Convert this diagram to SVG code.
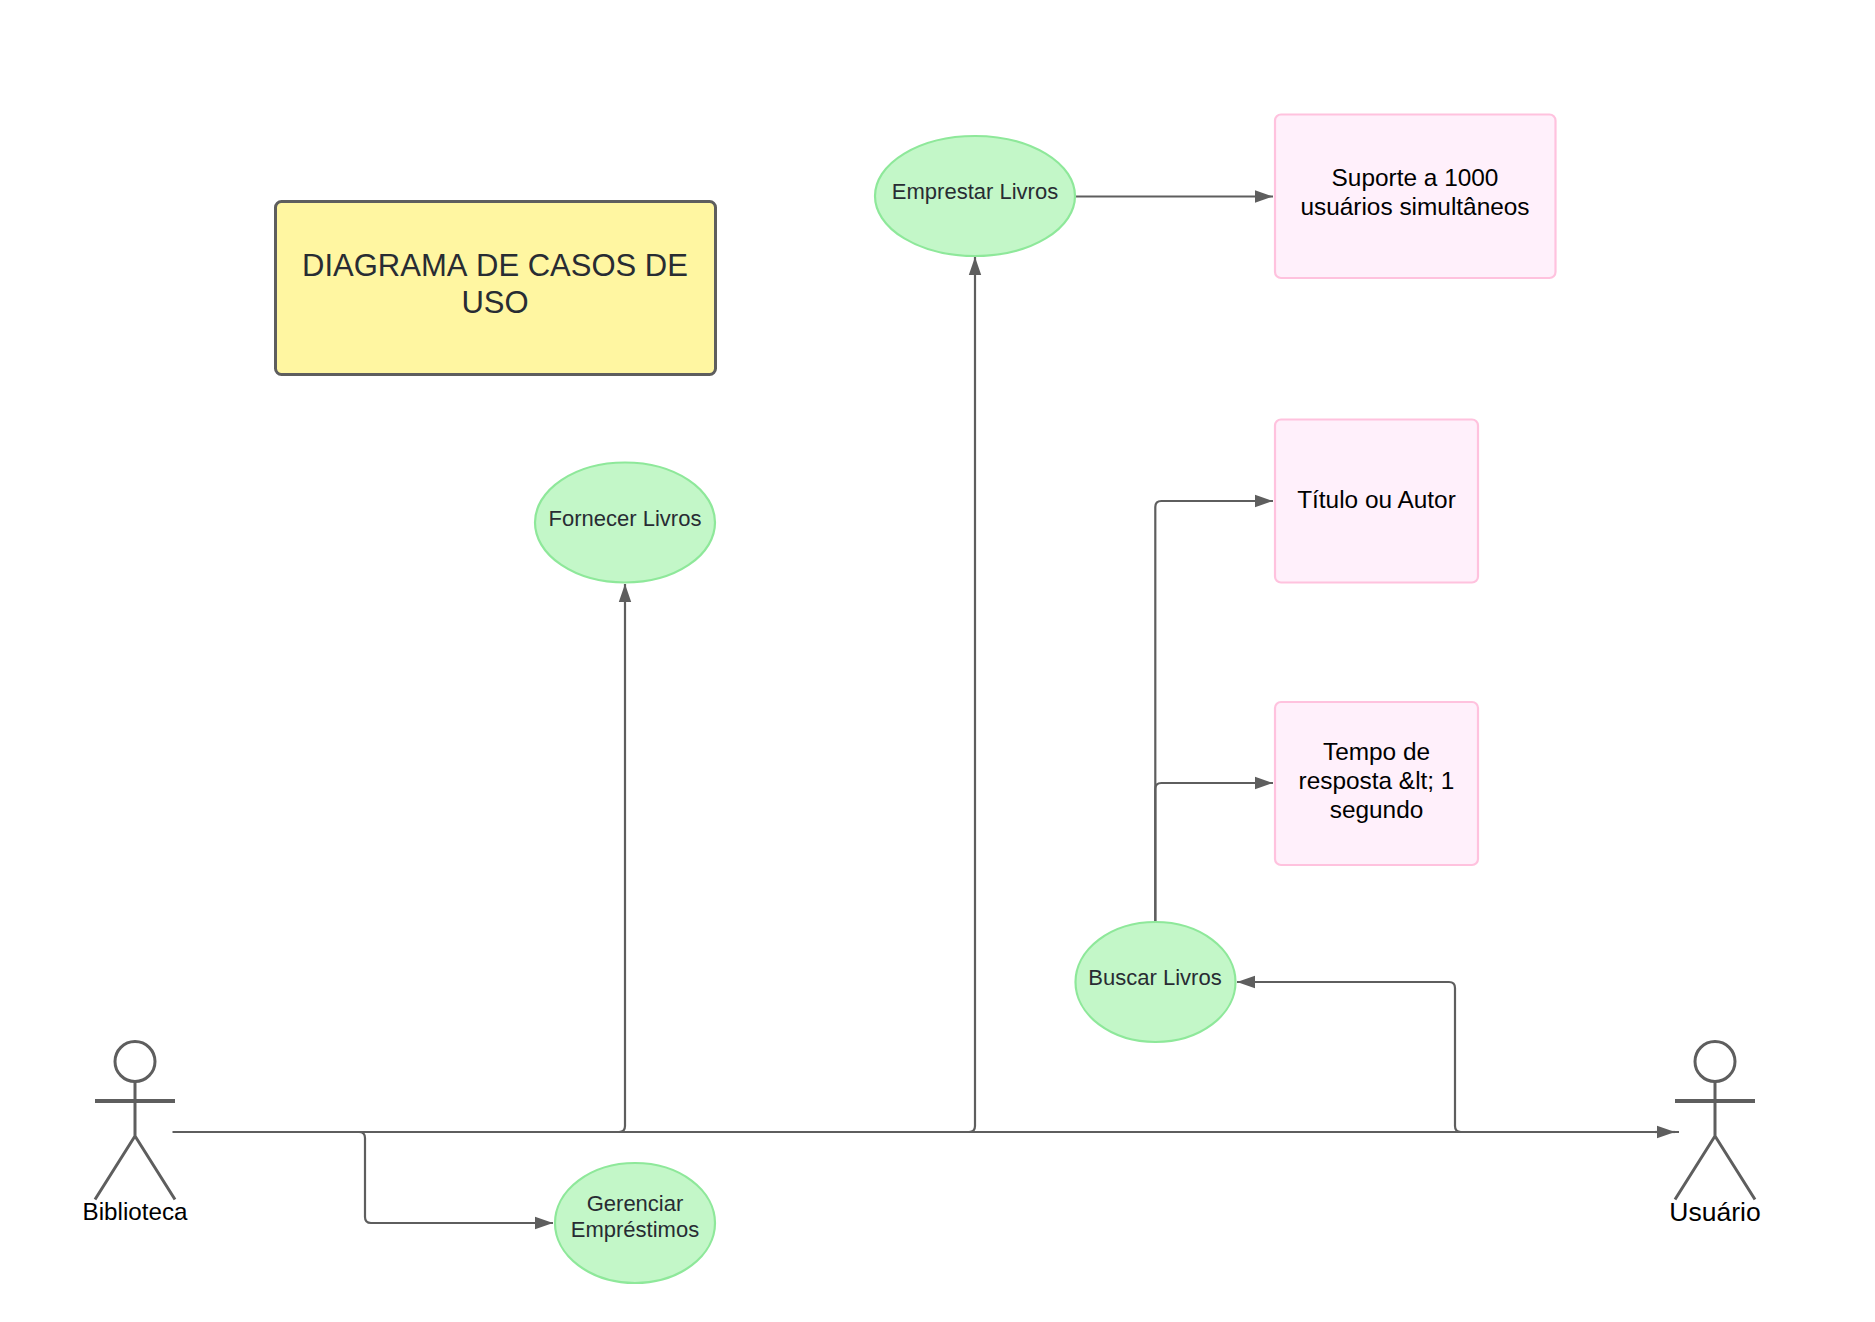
<svg xmlns="http://www.w3.org/2000/svg" width="1875" height="1322" viewBox="0 0 1875 1322">
<style>
text{font-family:"Liberation Sans",Arial,sans-serif;text-anchor:middle}
.nk{font-kerning:none}
.uc{fill:#c3f7c8;stroke:#8ee89a;stroke-width:2.2}
.uc-t{font-size:22px;fill:#282c33;font-kerning:none}
.req{fill:#fff0fb;stroke:#ffc2de;stroke-width:2.2}
.req-t{font-size:24.4px;fill:#000}
.fig{fill:none;stroke:#5e5e5e;stroke-width:3}
.fig-arm{stroke-width:4}
.con{fill:none;stroke:#5e5e5e;stroke-width:2.2;marker-end:url(#ah)}
.con2{fill:none;stroke:#5e5e5e;stroke-width:2.2}
</style>
<defs>
<marker id="ah" markerUnits="userSpaceOnUse" markerWidth="18" markerHeight="14" refX="18" refY="7" orient="auto"><path d="M0 .8L18 7L0 13.2Z" fill="#5e5e5e"/></marker>
</defs>
<rect width="1875" height="1322" fill="#fff"/>
<g id="connectors">
<path class="con2" d="M172.500 1132H1679"/>
<path class="con" d="M1655 1132H1675"/>
<path class="con" d="M359 1132Q365 1132 365 1138V1217Q365 1223 371 1223H553"/>
<path class="con" d="M619 1132Q625 1132 625 1126V584"/>
<path class="con" d="M969 1132Q975 1132 975 1126V257"/>
<path class="con" d="M1076 196.500H1273"/>
<path class="con" d="M1155.300 922V507Q1155.300 501 1161.300 501H1273"/>
<path class="con" d="M1155.300 922V789Q1155.300 783 1161.300 783H1273"/>
<path class="con" d="M1461 1132Q1455 1132 1455 1126V988Q1455 982 1449 982H1237"/>
</g>
<g id="title"><rect x="275.500" y="201.500" width="440" height="173" rx="6" fill="#fff6a1" stroke="#5e5e5e" stroke-width="3"/>
<text class="nk" x="495" y="275.500" font-size="31" fill="#282c33">DIAGRAMA DE CASOS DE</text><text class="nk" x="495" y="312.500" font-size="31" fill="#282c33">USO</text></g>
<g id="uc-fornecer"><ellipse class="uc" cx="625" cy="522.500" rx="90" ry="60"/><text class="uc-t" x="625" y="525.500">Fornecer Livros</text></g>
<g id="uc-emprestar"><ellipse class="uc" cx="975" cy="196" rx="100" ry="60"/><text class="uc-t" x="975" y="199">Emprestar Livros</text></g>
<g id="uc-buscar"><ellipse class="uc" cx="1155.500" cy="982" rx="80" ry="60"/><text class="uc-t" x="1155" y="985">Buscar Livros</text></g>
<g id="uc-gerenciar"><ellipse class="uc" cx="635" cy="1223" rx="80" ry="60"/><text class="uc-t" x="635" y="1210.500">Gerenciar</text><text class="uc-t" x="635" y="1237">Empréstimos</text></g>
<g id="req-suporte"><rect class="req" x="1275" y="114.500" width="280.500" height="163.500" rx="6"/><text class="req-t" x="1415" y="185.500">Suporte a 1000</text><text class="req-t" x="1415" y="214.500">usuários simultâneos</text></g>
<g id="req-titulo"><rect class="req" x="1275" y="419.500" width="203" height="163" rx="6"/><text class="req-t" x="1376.500" y="508">Título ou Autor</text></g>
<g id="req-tempo"><rect class="req" x="1275" y="702" width="203" height="163" rx="6"/><text class="req-t" x="1376.500" y="759.500">Tempo de</text><text class="req-t" x="1376.500" y="789">resposta &amp;lt; 1</text><text class="req-t" x="1376.500" y="818">segundo</text></g>
<g id="actor-biblioteca"><ellipse class="fig" cx="135" cy="1061.500" rx="20" ry="20"/><path class="fig" d="M135 1081.500V1136M95 1199.500L135 1136L175 1199.500"/><path class="fig fig-arm" d="M95 1101H175"/><text x="135" y="1219.500" font-size="24.200" fill="#000">Biblioteca</text></g>
<g id="actor-usuario"><ellipse class="fig" cx="1715" cy="1061.500" rx="20" ry="20"/><path class="fig" d="M1715 1081.500V1136M1675 1199.500L1715 1136L1755 1199.500"/><path class="fig fig-arm" d="M1675 1101H1755"/><text x="1715" y="1221" font-size="26.500" fill="#000">Usuário</text></g>
</svg>
